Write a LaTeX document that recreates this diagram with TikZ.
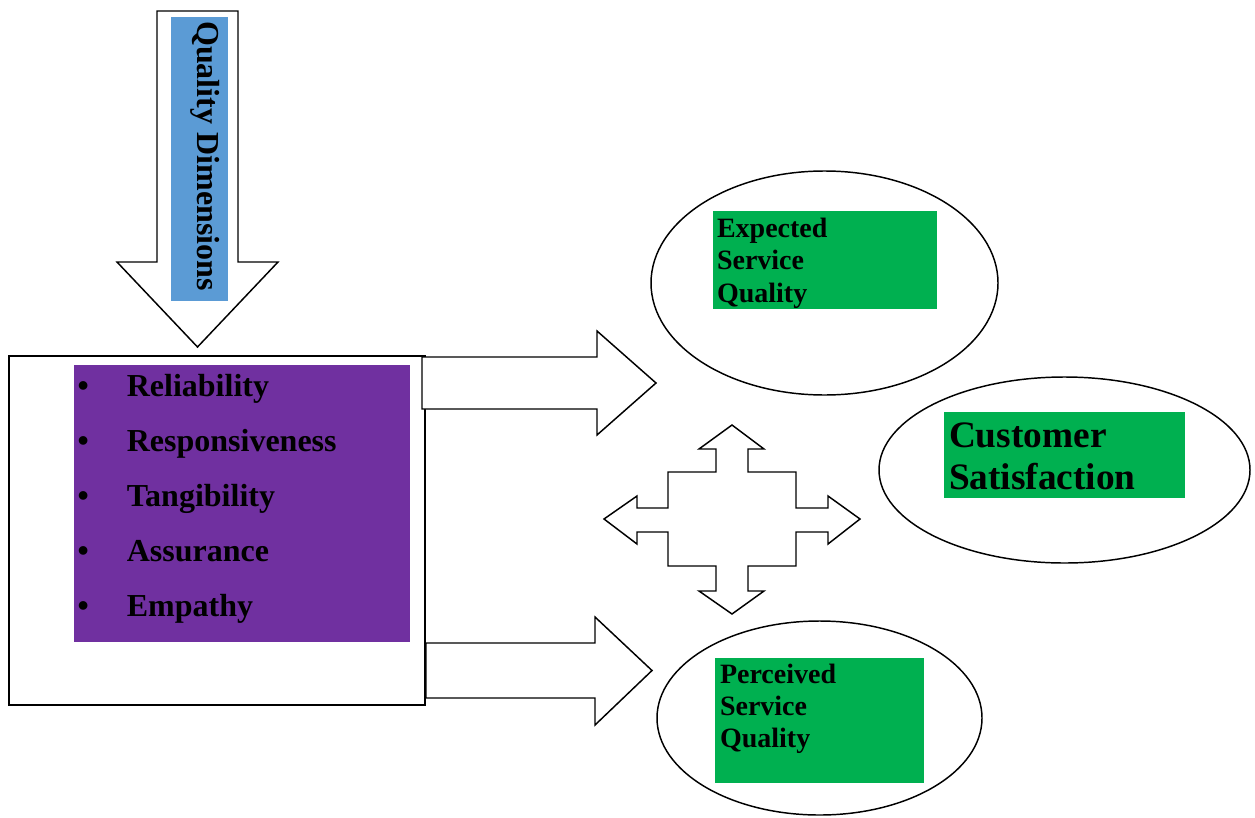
\documentclass[tikz,border=0pt]{standalone}
\usepackage{fontspec}
\setmainfont{Liberation Serif}
\usetikzlibrary{fit,shapes.geometric}
\definecolor{wgreen}{HTML}{00B050}
\definecolor{wpurple}{HTML}{7030A0}
\definecolor{wblue}{HTML}{5B9BD5}
\begin{document}
\begin{tikzpicture}[x=0.75pt,y=-0.75pt,
  outline/.style={draw=black,line width=1.1pt},
  blockarrow/.style={draw=black,line width=1.1pt,fill=white,line join=miter},
  panel/.style={inner sep=0pt,outer sep=0pt},
  oval/.style={ellipse,draw=black,line width=1.1pt,inner sep=0pt},
  lbl/.style={inner sep=0pt,outer sep=0pt,anchor=base west,font=\bfseries}]
\useasboundingbox (0,0) rectangle (1255,817);

% top down arrow
\draw[blockarrow] (157,11) -- (238,11) -- (238,262) -- (278,262) -- (197.5,347)
  -- (117,262) -- (157,262) -- cycle;
\node[panel,fill=wblue,fit={(171,17) (228,301)}] (qbox) {};
\node[inner sep=0pt,anchor=base,rotate=-90,font=\fontsize{24}{28}\selectfont\bfseries]
  (qtext) at (197,156) {Quality Dimensions};

% left box
\node[panel,outline,fit={(9,356) (425,705)}] (dimbox) {};
\node[panel,fill=wpurple,fit={(74,365) (410,642)}] (dimfill) {};
\node[lbl,font=\fontsize{24}{41.25}\selectfont\bfseries] (dims) at (77.5,396)
  {\parbox[t]{300pt}{\makebox[37pt][l]{•}Reliability\\
   \makebox[37pt][l]{•}Responsiveness\\
   \makebox[37pt][l]{•}Tangibility\\
   \makebox[37pt][l]{•}Assurance\\
   \makebox[37pt][l]{•}Empathy}};

% right arrows
\draw[blockarrow] (422,357) -- (597,357) -- (597,331) -- (656,383) -- (597,435)
  -- (597,409) -- (422,409) -- cycle;
\draw[blockarrow] (426,643) -- (595,643) -- (595,617) -- (652,670.5) -- (595,725)
  -- (595,698) -- (426,698) -- cycle;

% four-way arrow
\draw[blockarrow] (732,425) -- (764,449) -- (748,449) -- (748,472) -- (796,472)
  -- (796,508) -- (828,508) -- (828,496) -- (860,519) -- (828,544) -- (828,532)
  -- (796,532) -- (796,566) -- (748,566) -- (748,591) -- (764,591) -- (732,614)
  -- (699,591) -- (716,591) -- (716,566) -- (668,566) -- (668,532) -- (637,532)
  -- (637,544) -- (604,519) -- (637,496) -- (637,508) -- (668,508) -- (668,472)
  -- (716,472) -- (716,449) -- (699,449) -- cycle;

% ellipses
\node[oval,minimum width=260.25pt,minimum height=168pt] (expected) at (824.5,283) {};
\node[oval,minimum width=278.25pt,minimum height=139.5pt] (customer) at (1064.5,470) {};
\node[oval,minimum width=243.75pt,minimum height=145.5pt] (perceived) at (819.5,718) {};

% green labels
\node[panel,fill=wgreen,fit={(713,211) (937,309)}] (expbox) {};
\node[lbl,font=\fontsize{21}{24.4}\selectfont\bfseries] (exptext) at (717,237)
  {\parbox[t]{160pt}{Expected\\Service\\Quality}};
\node[panel,fill=wgreen,fit={(944,412) (1185,498)}] (cusbox) {};
\node[lbl,font=\fontsize{28}{31.5}\selectfont\bfseries] (custext) at (949,447)
  {\parbox[t]{175pt}{Customer\\Satisfaction}};
\node[panel,fill=wgreen,fit={(715,658) (924,783)}] (perbox) {};
\node[lbl,font=\fontsize{21}{24}\selectfont\bfseries] (pertext) at (720,683)
  {\parbox[t]{150pt}{Perceived\\Service\\Quality}};
\end{tikzpicture}
\end{document}
